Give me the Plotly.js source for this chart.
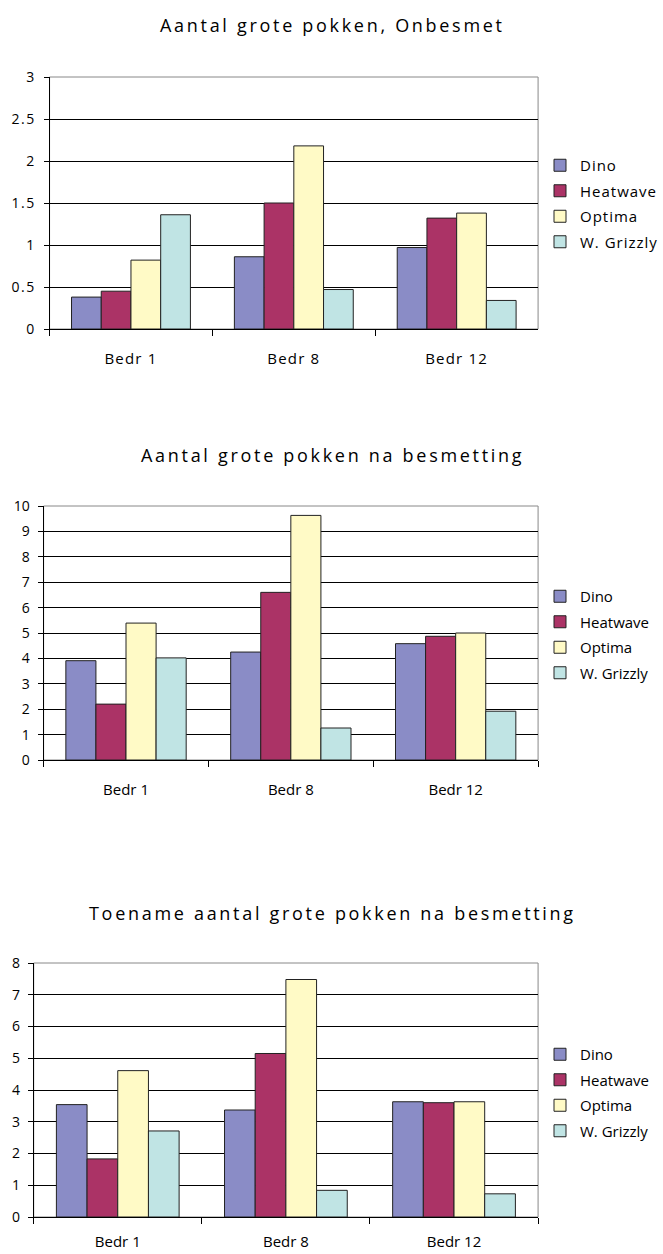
<!DOCTYPE html>
<html><head><meta charset="utf-8">
<script src="https://cdn.plot.ly/plotly-3.0.1.min.js"></script>
<style>
html,body{margin:0;padding:0;background:#fff}
#c{width:663px;height:1254px}
.annotation-text{letter-spacing:2.7px}
.xtick text{letter-spacing:1.2px}
.ytick text{letter-spacing:1.5px}
.legendtext{letter-spacing:1px}
</style>
</head><body><div id="c"></div>
<script>
const categories = ["Bedr 1", "Bedr 8", "Bedr 12"];
const seriesNames = ["Dino", "Heatwave", "Optima", "W. Grizzly"];
const titles = ["Aantal grote pokken, Onbesmet", "Aantal grote pokken na besmetting", "Toename aantal grote pokken na besmetting"];

// Chart 1: Aantal grote pokken, Onbesmet
const onbesmetDino = [0.38, 0.86, 0.97];
const onbesmetHeatwave = [0.45, 1.50, 1.32];
const onbesmetOptima = [0.82, 2.18, 1.38];
const onbesmetGrizzly = [1.36, 0.47, 0.34];

// Chart 2: Aantal grote pokken na besmetting
const besmetDino = [3.91, 4.25, 4.58];
const besmetHeatwave = [2.20, 6.60, 4.87];
const besmetOptima = [5.39, 9.63, 5.00];
const besmetGrizzly = [4.02, 1.26, 1.92];

// Chart 3: Toename aantal grote pokken na besmetting
const toenameDino = [3.54, 3.37, 3.63];
const toenameHeatwave = [1.83, 5.15, 3.60];
const toenameOptima = [4.61, 7.48, 3.63];
const toenameGrizzly = [2.71, 0.84, 0.73];

const colors = ["#8a8cc6", "#ab3366", "#fffac6", "#c0e4e4"];
const FONT = "Open Sans, sans-serif";
const H = 663, V = 1254;

const charts = [
  {data: [onbesmetDino, onbesmetHeatwave, onbesmetOptima, onbesmetGrizzly], range: [0, 3], dtick: 0.5,
   left: 50, right: 543, top: 77, bottom: 329, titleY: 25, legendTop: 149, standoff: 16},
  {data: [besmetDino, besmetHeatwave, besmetOptima, besmetGrizzly], range: [0, 10], dtick: 1,
   left: 44, right: 543, top: 506, bottom: 760, titleY: 455, legendTop: 580, standoff: 16},
  {data: [toenameDino, toenameHeatwave, toenameOptima, toenameGrizzly], range: [0, 8], dtick: 1,
   left: 34, right: 543, top: 963, bottom: 1217, titleY: 913, legendTop: 1038, standoff: 11}
];

const traces = [];
const layout = {
  width: H, height: V, margin: {l: 0, r: 0, t: 0, b: 0},
  paper_bgcolor: "#fff", plot_bgcolor: "#fff",
  barmode: "group", bargap: 0.27, bargroupgap: 0,
  font: {family: FONT, color: "#000", size: 14},
  annotations: [], shapes: []
};

charts.forEach((c, i) => {
  const n = i === 0 ? "" : String(i + 1);
  const xa = "x" + n, ya = "y" + n;
  const leg = "legend" + n;
  c.data.forEach((vals, s) => {
    traces.push({
      type: "bar", x: categories, y: vals, name: seriesNames[s],
      xaxis: xa, yaxis: ya, legend: leg, legendgroup: "g" + i + "_" + s,
      marker: {color: colors[s], line: {color: "#222", width: 1}},
      hoverinfo: "y"
    });
  });
  layout["xaxis" + n] = {
    domain: [c.left / H, c.right / H], anchor: ya,
    showline: true, linecolor: "#000", linewidth: 1,
    ticks: "outside", tickson: "boundaries", ticklen: 6, tickcolor: "#000",
    ticklabelstandoff: c.standoff,
    tickfont: {size: 15, family: FONT}, showgrid: false, fixedrange: true
  };
  layout["yaxis" + n] = {
    domain: [1 - c.bottom / V, 1 - c.top / V], anchor: xa,
    range: c.range, dtick: c.dtick, tick0: 0,
    showline: true, linecolor: "#000", linewidth: 1,
    ticks: "outside", ticklen: 5, tickcolor: "#000", ticklabelstandoff: 5,
    showgrid: true, gridcolor: "#000", gridwidth: 1, zeroline: false,
    tickfont: {size: 14, family: FONT}, fixedrange: true
  };
  layout[leg] = {
    x: 545 / H, xanchor: "left", y: 1 - c.legendTop / V, yanchor: "top",
    font: {size: 15, family: FONT}, bgcolor: "rgba(0,0,0,0)",
    traceorder: "grouped", tracegroupgap: 3, itemclick: false
  };
  layout.annotations.push({
    text: titles[i], xref: "paper", yref: "paper", x: 336 / H, y: 1 - c.titleY / V,
    xanchor: "center", yanchor: "middle", showarrow: false,
    font: {size: 18, family: FONT, color: "#000"}
  });
  layout.shapes.push({
    type: "rect", xref: xa + " domain", yref: ya + " domain", x0: 0, x1: 1, y0: 0, y1: 1,
    line: {color: "#888", width: 1}, layer: "below"
  });
});

Plotly.newPlot("c", traces, layout, {displayModeBar: false, staticPlot: true});
</script></body></html>
